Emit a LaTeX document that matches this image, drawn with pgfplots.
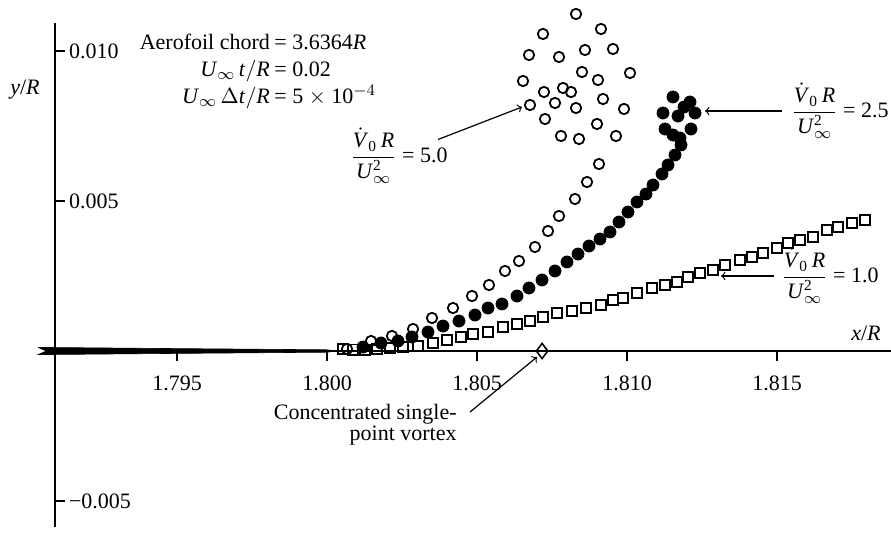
\documentclass[border=0pt]{standalone}
\usepackage{amsmath}
\usepackage{fontspec}
\setmainfont{Liberation Serif}
\usepackage{pgfplots}
\pgfplotsset{compat=1.18}
\newcommand{\tmi}[1]{\text{\textit{#1}}}
\newcommand{\frc}{\dfrac{\dot{\tmi{V}}_{\text{0}}\,\tmi{R}}{\tmi{U}^{\text{2}}_{\infty}}}
\begin{document}
\begin{tikzpicture}[font=\fontsize{10.5}{12.6}\selectfont]
\begin{axis}[
  scale only axis, width=418pt, height=252pt,
  xmin=1.790933, xmax=1.8188, ymin=-0.005867, ymax=0.010933,
  axis x line=middle, axis y line=left,
  axis line style={-, line width=0.8pt, black},
  clip=false,
  xtick={1.795,1.800,1.805,1.810,1.815},
  xticklabels={1.795,1.800,1.805,1.810,1.815},
  ytick={-0.005,0.005,0.010},
  yticklabels={−0.005,0.005,0.010},
  scaled x ticks=false, scaled y ticks=false,
  tick align=center, major tick length=5pt,
  tick style={line width=0.7pt, black},
  x tick style={yshift=-2.5pt},
  y tick style={xshift=2.5pt},
  xticklabel style={yshift=-6.5pt, font=\fontsize{11}{13}\selectfont},
  yticklabel style={anchor=west, xshift=6pt, font=\fontsize{11}{13}\selectfont},
  /pgf/number format/assume math mode=true,
]
% wake / vortex sheet along the axis
\addplot[fill=black, draw=black, line width=0.3pt] coordinates {
 (1.79037,0.00012) (1.7950,0.00008) (1.8000,0.00004) (1.8003,0.0) (1.8000,-0.00004)
 (1.7950,-0.00008) (1.79037,-0.00012) (1.79065,0) (1.79037,0.00012)};
% V0R/U^2 = 1.0 (squares)
\addplot[only marks, mark=square, mark size=2.6pt, line width=0.8pt, black, mark options={fill=white}] coordinates {
(1.800533,0.000067)(1.800867,0.00005)(1.801267,0.00005)(1.801667,0.000067)(1.8021,0.0001)(1.802533,0.000133)
(1.803033,0.000167)(1.803533,0.000267)(1.804,0.000367)(1.804467,0.000467)(1.804867,0.000567)(1.805367,0.000633)
(1.805867,0.0008)(1.806333,0.0009)(1.806767,0.001)(1.8072,0.001133)(1.807667,0.001267)(1.808167,0.001333)
(1.808633,0.001433)(1.809133,0.001533)(1.809533,0.0017)(1.809867,0.001767)(1.810333,0.001933)(1.810833,0.0021)
(1.811267,0.0022)(1.811667,0.0023)(1.812033,0.002467)(1.812433,0.0026)(1.812867,0.0027)(1.813267,0.002867)
(1.813767,0.003033)(1.814167,0.003133)(1.814533,0.003267)(1.815,0.003433)(1.815367,0.0036)(1.815767,0.0037)
(1.8162,0.0038)(1.816667,0.004033)(1.817033,0.004133)(1.8175,0.004267)(1.817933,0.004367)};
% V0R/U^2 = 5.0 (open circles)
\addplot[only marks, mark=o, mark size=2.6pt, line width=0.9pt, black, mark options={fill=white}] coordinates {
(1.800667,0.000067)(1.801467,0.000333)(1.802167,0.0005)(1.802867,0.000733)(1.8035,0.0011)(1.8042,0.001433)
(1.804833,0.001833)(1.8054,0.0022)(1.805933,0.002667)(1.8064,0.003)(1.806933,0.003467)(1.807367,0.004)
(1.807733,0.0045)(1.808267,0.005067)(1.808667,0.005633)(1.809067,0.006233)
(1.809633,0.007167)(1.8084,0.007067)(1.8078,0.007167)(1.809,0.007567)(1.807267,0.007733)(1.8099,0.008067)
(1.8083,0.0081)(1.806767,0.0082)(1.8092,0.0084)(1.8076,0.008267)(1.808133,0.008633)(1.807867,0.008767)
(1.807233,0.008633)(1.806533,0.009)(1.809033,0.009033)(1.8101,0.009267)(1.8085,0.0093)(1.807733,0.0098)
(1.806733,0.009867)(1.8086,0.010033)(1.809533,0.010067)(1.8072,0.010567)(1.809133,0.010733)(1.8083,0.011233)};
% V0R/U^2 = 2.5 (filled circles)
\addplot[only marks, mark=*, mark size=3pt, black] coordinates {
(1.8012,0.000133)(1.8018,0.000267)(1.802367,0.000333)(1.802833,0.000467)(1.803367,0.000633)(1.803867,0.000833)
(1.8044,0.001)(1.804933,0.0012)(1.805367,0.001433)(1.805833,0.001567)(1.806333,0.001833)(1.806733,0.0021)
(1.807167,0.002367)(1.8076,0.002667)(1.808,0.002967)(1.808367,0.003233)(1.808733,0.0035)(1.8091,0.003733)
(1.809433,0.003967)(1.809733,0.0043)(1.810033,0.004633)(1.810333,0.004967)(1.810633,0.005233)(1.810867,0.005533)
(1.811167,0.0059)(1.811367,0.0062)(1.8116,0.006533)(1.8118,0.006867)(1.811767,0.0071)(1.811533,0.0072)
(1.811267,0.0074)(1.812133,0.0074)(1.8117,0.007833)(1.8112,0.007933)(1.812267,0.007933)(1.8119,0.008133)
(1.811533,0.008467)(1.8121,0.0083)};
% concentrated single-point vortex
\addplot[only marks, mark=diamond, mark size=3.8pt, line width=0.8pt, black, mark options={fill=white}] coordinates {(1.80717,0)};
% labels
\node at (axis cs:1.789933,0.0087) {\fontsize{11}{13}\selectfont\textit{y}/\textit{R}};
\node at (axis cs:1.817967,0.0006) {\fontsize{11}{13}\selectfont\textit{x}/\textit{R}};
\begin{scope}[font=\fontsize{11}{13}\selectfont]
\node[anchor=base east, inner sep=0pt] at (axis cs:1.798233,0.01005) {Aerofoil chord\,};
\node[anchor=base west, inner sep=0pt] at (axis cs:1.798233,0.01005) {= 3.6364\textit{R}};
\node[anchor=base east, inner sep=0pt] at (axis cs:1.798233,0.00915) {$\tmi{U}_{\infty}\,\tmi{t}/\tmi{R}$\,};
\node[anchor=base west, inner sep=0pt] at (axis cs:1.798233,0.00915) {= 0.02};
\node[anchor=base east, inner sep=0pt] at (axis cs:1.798233,0.00825) {$\tmi{U}_{\infty}\,\Delta\tmi{t}/\tmi{R}$\,};
\node[anchor=base west, inner sep=0pt] at (axis cs:1.798233,0.00825) {= 5 $\times$ 10$^{-4}$};
\node at (axis cs:1.8024,0.0065) {$\frc$ = 5.0};
\node at (axis cs:1.8171,0.008) {$\frc$ = 2.5};
\node at (axis cs:1.816767,0.0025) {$\frc$ = 1.0};
\node[anchor=north east, align=right, inner sep=0pt, font=\fontsize{11}{9.5}\selectfont] at (axis cs:1.804333,-0.00175) {Concentrated single-\\point vortex};
\end{scope}
\draw[->, line width=0.6pt] (axis cs:1.8037,0.00705) -- (axis cs:1.8065,0.008133);
\draw[->, line width=0.6pt] (axis cs:1.81515,0.008) -- (axis cs:1.8126,0.008);
\draw[->, line width=0.6pt] (axis cs:1.8149,0.0025) -- (axis cs:1.813133,0.0025);
\draw[->, line width=0.6pt] (axis cs:1.804767,-0.002033) -- (axis cs:1.807,-0.0002);
\coordinate (BL) at (axis cs:1.7891,-0.006233);
\coordinate (TR) at (axis cs:1.8188,0.0117);
\end{axis}
\pgfresetboundingbox
\useasboundingbox (BL) rectangle (TR);
\end{tikzpicture}
\end{document}
